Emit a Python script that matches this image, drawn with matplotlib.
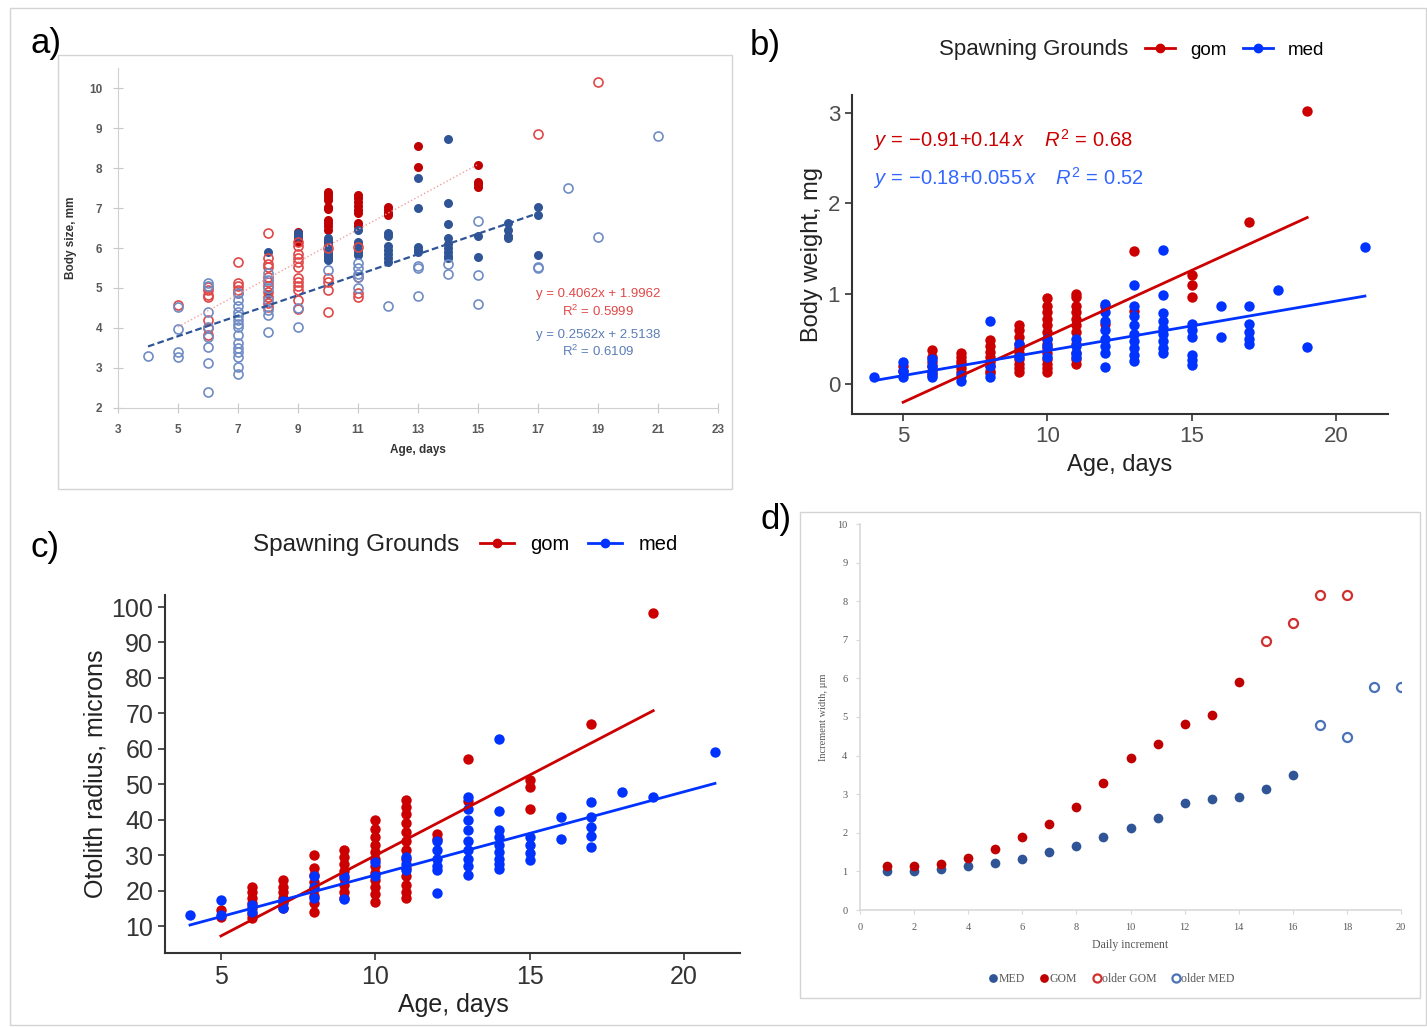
import matplotlib
matplotlib.use('Agg')
import matplotlib.pyplot as plt
from matplotlib.lines import Line2D
from matplotlib.patches import Rectangle

# ---------------- data ----------------
# panel a: body size (mm) by age, four point groups
a_red_fill = {9: [6.41, 6.33, 6.24, 6.16],
              10: [7.41, 7.35, 7.28, 7.2, 7.03, 6.98, 6.7, 6.62, 6.55, 6.45, 6.16, 6.1],
              11: [7.32, 7.25, 7.15, 7.05, 6.95, 6.87, 6.62, 6.55],
              12: [7.03, 6.95, 6.88, 6.83],
              13: [8.55, 8.03],
              15: [8.07, 7.66, 7.6, 7.53]}
a_red_open = {5: [4.58],
              6: [5.03, 4.95, 4.82, 4.78, 4.2, 3.99, 3.82],
              7: [5.66, 5.13, 5.05, 4.95, 4.87],
              8: [6.37, 5.74, 5.6, 5.53, 5.28, 5.15, 5.05, 4.9, 4.78, 4.62, 4.53],
              9: [6.16, 6.05, 5.85, 5.75, 5.65, 5.53, 5.25, 5.15, 5.05, 4.95, 4.7, 4.47],
              10: [6.0, 5.24, 5.15, 4.95, 4.41],
              11: [6.03, 5.28, 4.87, 4.78],
              17: [8.84],
              19: [10.14]}
a_blue_fill = {8: [5.91, 4.85],
               9: [6.37, 6.3],
               10: [6.25, 6.2, 6.1, 5.95, 5.9, 5.85, 5.8, 5.75, 5.7],
               11: [6.45, 6.16, 6.1, 5.95, 5.88, 5.82],
               12: [6.37, 6.3, 6.05, 5.95, 5.85, 5.75, 5.66],
               13: [7.74, 6.99, 6.03, 5.95, 5.91],
               14: [8.73, 7.12, 6.59, 6.24, 6.1, 6.0, 5.9, 5.8, 5.74],
               15: [6.3, 5.77],
               16: [6.62, 6.45, 6.3, 6.24],
               17: [7.02, 6.82, 5.83]}
a_blue_open = {4: [3.3],
               5: [4.53, 3.97, 3.41, 3.28],
               6: [5.13, 5.05, 4.41, 4.03, 3.78, 3.52, 3.12, 2.39],
               7: [4.87, 4.7, 4.55, 4.4, 4.3, 4.2, 4.1, 4.03, 3.82, 3.62, 3.5, 3.4, 3.28, 3.03, 2.85],
               8: [5.37, 5.2, 5.0, 4.7, 4.45, 4.32, 3.91],
               9: [4.49, 4.03],
               10: [5.45],
               11: [5.62, 5.5, 5.35, 5.28, 4.99],
               12: [4.56],
               13: [5.55, 5.5, 4.8],
               14: [5.6, 5.35],
               15: [6.67, 5.33, 4.59],
               17: [5.53, 5.5],
               18: [7.51],
               19: [6.28],
               21: [8.81]}
a_red_fit = (0.4062, 1.9962, 5, 15)
a_blue_fit = (0.2562, 2.5138, 4, 17)

# panel b: body weight (mg) by age
b_gom = {5: [0.2, 0.15],
         6: [0.38, 0.3, 0.25, 0.2, 0.15, 0.1],
         7: [0.34, 0.3, 0.26, 0.22, 0.18, 0.14],
         8: [0.49, 0.42, 0.36, 0.3, 0.25, 0.2, 0.15, 0.12],
         9: [0.65, 0.6, 0.52, 0.45, 0.4, 0.34, 0.28, 0.22, 0.18, 0.14],
         10: [0.95, 0.87, 0.8, 0.72, 0.65, 0.58, 0.5, 0.45, 0.4, 0.34, 0.28, 0.22, 0.18, 0.14],
         11: [1.0, 0.96, 0.87, 0.8, 0.72, 0.65, 0.58, 0.45, 0.35, 0.28, 0.22],
         12: [0.86, 0.67],
         13: [1.47, 0.81],
         15: [1.21, 1.1, 0.97],
         17: [1.79],
         19: [3.02]}
b_med = {4: [0.08],
         5: [0.25, 0.15, 0.08],
         6: [0.28, 0.2, 0.12, 0.08],
         7: [0.1, 0.04],
         8: [0.7, 0.2, 0.08],
         9: [0.45, 0.3],
         10: [0.5, 0.42, 0.3],
         11: [0.5, 0.42, 0.35, 0.3],
         12: [0.89, 0.8, 0.7, 0.6, 0.5, 0.42, 0.35, 0.19],
         13: [1.1, 0.87, 0.75, 0.65, 0.55, 0.48, 0.4, 0.32, 0.26],
         14: [1.49, 0.99, 0.79, 0.7, 0.62, 0.55, 0.48, 0.4, 0.34],
         15: [0.67, 0.6, 0.52, 0.32, 0.27, 0.21],
         16: [0.86, 0.52],
         17: [0.86, 0.67, 0.58, 0.5, 0.45],
         18: [1.04],
         19: [0.41],
         21: [1.52]}
b_gom_fit = (0.146, -0.93, 5, 19)
b_med_fit = (0.055, -0.18, 4, 21)

# panel c: otolith radius (microns) by age
c_gom = {5: [14.5, 12.5],
         6: [21.1, 19.5, 18, 16.5, 15, 13.5, 12.2],
         7: [23, 21, 19.5, 18, 16.5, 15],
         8: [30, 26.4, 24.5, 22.5, 20.5, 18.5, 16.5, 14],
         9: [31.4, 29.5, 27.5, 25.5, 23.5, 21.5, 19.7, 17.9],
         10: [40, 37.5, 35, 33, 31, 29, 27, 25, 23, 21, 19, 16.9],
         11: [45.5, 43.5, 41.5, 39, 36.5, 34, 31.5, 29, 26.5, 24, 21.5, 19.5, 17.9],
         12: [36, 34.5],
         13: [57.1, 45.4],
         15: [51.2, 49.3, 42.9],
         17: [66.9],
         19: [98.4]}
c_med = {4: [13.1],
         5: [17.3, 13.1],
         6: [16, 14],
         7: [17, 15],
         8: [24, 21, 18],
         9: [24, 17.5],
         10: [28, 24],
         11: [29.5, 27.5, 25.8],
         12: [34, 31.5, 29, 27, 25.8, 19.4],
         13: [46.5, 43, 40, 37, 34, 31.5, 29, 27, 24.4],
         14: [62.7, 42.5, 37, 35, 33, 31, 29, 27.5, 26],
         15: [35.2, 33, 30.5, 28.6],
         16: [40.8, 34.5],
         17: [45, 40.8, 38, 35.5, 32.4],
         18: [47.7],
         19: [46.3],
         21: [59.2]}
c_gom_fit = (4.54, -15.5, 5, 19)
c_med_fit = (2.35, 0.9, 4, 21)

# panel d: increment width by daily increment
d_med_x = list(range(1, 17))
d_med_y = [1.02, 1.02, 1.05, 1.13, 1.22, 1.32, 1.49, 1.67, 1.89, 2.12, 2.39, 2.76, 2.87, 2.94, 3.13, 3.5]
d_gom_x = list(range(1, 15))
d_gom_y = [1.13, 1.13, 1.2, 1.34, 1.59, 1.88, 2.23, 2.66, 3.3, 3.93, 4.31, 4.83, 5.05, 5.91]
d_old_gom_x = [15, 16, 17, 18]
d_old_gom_y = [6.98, 7.44, 8.17, 8.17]
d_old_med_x = [17, 18, 19, 20]
d_old_med_y = [4.8, 4.48, 5.78, 5.78]

# ---------------- layout helpers ----------------
plt.rcParams['font.family'] = ['Liberation Sans', 'DejaVu Sans']
plt.rcParams['mathtext.fontset'] = 'custom'
plt.rcParams['mathtext.rm'] = 'Liberation Sans'
plt.rcParams['mathtext.it'] = 'Liberation Sans:italic'

W, H = 1427, 1027
fig = plt.figure(figsize=(W / 100, H / 100), dpi=100)


def box(x0, y0, x1, y1):
    return [x0 / W, 1 - y1 / H, (x1 - x0) / W, (y1 - y0) / H]


def fx(px):
    return px / W


def fy(py):
    return 1 - py / H


def flat(d):
    xs, ys = [], []
    for k, v in d.items():
        xs += [k] * len(v)
        ys += v
    return xs, ys


def fitline(ax, fit, **kw):
    m, b, x0, x1 = fit
    ax.plot([x0, x1], [m * x0 + b, m * x1 + b], **kw)


# frames
fig.patches.append(Rectangle((fx(10), fy(1025)), fx(1416), 1017 / H, transform=fig.transFigure,
                             fill=False, ec='#d4d4d4', lw=1))
fig.patches.append(Rectangle((fx(58), fy(489)), fx(674), 434 / H, transform=fig.transFigure,
                             fill=False, ec='#d4d4d4', lw=1))
fig.patches.append(Rectangle((fx(800), fy(998)), fx(620), 486 / H, transform=fig.transFigure,
                             fill=False, ec='#d4d4d4', lw=1))

# ---------------- panel a ----------------
RED, BLUE = '#C00000', '#2F5597'
ax = fig.add_axes(box(118, 68, 718, 408))
x, y = flat(a_red_fill)
ax.plot(x, y, 'o', color=RED, ms=6.5, mew=0)
x, y = flat(a_blue_fill)
ax.plot(x, y, 'o', color=BLUE, ms=6.5, mew=0)
x, y = flat(a_red_open)
ax.plot(x, y, 'o', mfc='none', mec='#E04848', ms=6.5, mew=1.2)
x, y = flat(a_blue_open)
ax.plot(x, y, 'o', mfc='none', mec='#6F8CC4', ms=6.5, mew=1.2)
fitline(ax, a_red_fit, color='#F2A0A0', lw=1, ls=':')
fitline(ax, a_blue_fit, color=BLUE, lw=1.6, ls=(0, (3, 1.5)))
ax.set_xlim(3, 23)
ax.set_ylim(2, 10.5)
ax.set_xticks(range(3, 24, 2))
ax.set_yticks(range(2, 11))
for s in ['top', 'right']:
    ax.spines[s].set_visible(False)
for s in ['left', 'bottom']:
    ax.spines[s].set_color('#d0d0d0')
ax.tick_params(direction='inout', length=7, color='#c8c8c8', labelsize=8.5, labelcolor='#595959', pad=8)
for t in ax.get_xticklabels() + ax.get_yticklabels():
    t.set_fontweight('bold')
ax.text(0.80, 0.325, 'y = 0.4062x + 1.9962', transform=ax.transAxes, color='#E04848', fontsize=9.5, ha='center')
ax.text(0.80, 0.272, 'R$^2$ = 0.5999', transform=ax.transAxes, color='#E04848', fontsize=9.5, ha='center')
ax.text(0.80, 0.207, 'y = 0.2562x + 2.5138', transform=ax.transAxes, color='#5B7DB8', fontsize=9.5, ha='center')
ax.text(0.80, 0.154, 'R$^2$ = 0.6109', transform=ax.transAxes, color='#5B7DB8', fontsize=9.5, ha='center')
fig.text(fx(71), fy(238), 'Body size, mm', rotation=90, fontsize=8.5, fontweight='bold', color='#333333',
         ha='center', va='center')
fig.text(fx(418), fy(450), 'Age, days', fontsize=8.5, fontweight='bold', color='#333333', ha='center', va='center')
fig.text(fx(30), fy(44), 'a)', fontsize=25, va='center', ha='left')

# ---------------- panel b ----------------
GR, MB = '#CC0000', '#0033FF'
ax = fig.add_axes(box(852, 95, 1388, 414))
x, y = flat(b_gom)
ax.plot(x, y, 'o', color=GR, ms=7.5, mew=0)
x, y = flat(b_med)
ax.plot(x, y, 'o', color=MB, ms=7.5, mew=0)
fitline(ax, b_gom_fit, color=GR, lw=2)
fitline(ax, b_med_fit, color=MB, lw=2)
ax.set_xlim(3.23, 21.8)
ax.set_ylim(-0.33, 3.2)
ax.set_xticks([5, 10, 15, 20])
ax.set_yticks([0, 1, 2, 3])
for s in ['top', 'right']:
    ax.spines[s].set_visible(False)
for s in ['left', 'bottom']:
    ax.spines[s].set_color('#333333')
    ax.spines[s].set_linewidth(1.5)
ax.tick_params(length=5, width=1.2, color='#333333', labelsize=16, labelcolor='#4d4d4d')
ax.text(0.04, 0.86, r'$y\,=\,{-}0.91{+}0.14\,x\quad\;R^2\,=\,0.68$', transform=ax.transAxes, fontsize=14.5,
        color=GR, va='center')
ax.text(0.04, 0.74, r'$y\,=\,{-}0.18{+}0.055\,x\quad\;R^2\,=\,0.52$', transform=ax.transAxes, fontsize=14.5,
        color='#3366FF', va='center')
fig.text(fx(812), fy(255), 'Body weight, mg', rotation=90, fontsize=17, color='#222222', ha='center',
         va='center')
fig.text(fx(1120), fy(465), 'Age, days', fontsize=17, color='#222222', ha='center', va='center')
fig.text(fx(750), fy(46), 'b)', fontsize=25, va='center', ha='left')
fig.text(fx(1034), fy(50), 'Spawning Grounds', fontsize=16, color='#222222', ha='center', va='center')
hb = [Line2D([], [], color=GR, marker='o', ms=6, lw=2), Line2D([], [], color=MB, marker='o', ms=6, lw=2)]
fig.legend(hb, ['gom', 'med'], loc='center left', bbox_to_anchor=(fx(1128), fy(50)), ncol=2,
           frameon=False, fontsize=13.5, handlelength=1.6, columnspacing=0.9, handletextpad=0.8)

# ---------------- panel c ----------------
ax = fig.add_axes(box(165, 595, 740, 953))
x, y = flat(c_gom)
ax.plot(x, y, 'o', color=GR, ms=7.5, mew=0)
x, y = flat(c_med)
ax.plot(x, y, 'o', color=MB, ms=7.5, mew=0)
fitline(ax, c_gom_fit, color=GR, lw=2)
fitline(ax, c_med_fit, color=MB, lw=2)
ax.set_xlim(3.19, 21.81)
ax.set_ylim(2.4, 103.4)
ax.set_xticks([5, 10, 15, 20])
ax.set_yticks(range(10, 101, 10))
for s in ['top', 'right']:
    ax.spines[s].set_visible(False)
for s in ['left', 'bottom']:
    ax.spines[s].set_color('#333333')
    ax.spines[s].set_linewidth(1.5)
ax.tick_params(length=5, width=1.2, color='#333333', labelsize=18, labelcolor='#333333')
fig.text(fx(95), fy(774), 'Otolith radius, microns', rotation=90, fontsize=18, color='#222222',
         ha='center', va='center')
fig.text(fx(453), fy(1005), 'Age, days', fontsize=18, color='#222222', ha='center', va='center')
fig.text(fx(30), fy(548), 'c)', fontsize=25, va='center', ha='left')
fig.text(fx(356), fy(545), 'Spawning Grounds', fontsize=17.5, color='#222222', ha='center', va='center')
fig.legend(hb, ['gom', 'med'], loc='center left', bbox_to_anchor=(fx(462), fy(545)), ncol=2,
           frameon=False, fontsize=14.5, handlelength=1.7, columnspacing=0.9, handletextpad=0.8)

# ---------------- panel d ----------------
SERIF = 'Liberation Serif'
ax = fig.add_axes(box(860, 524, 1401, 910))
ax.plot(d_med_x, d_med_y, 'o', color=BLUE, ms=7, mew=0, label='MED')
ax.plot(d_gom_x, d_gom_y, 'o', color=RED, ms=7, mew=0, label='GOM')
ax.plot(d_old_gom_x, d_old_gom_y, 'o', mfc='white', mec='#D03030', ms=6.5, mew=1.6, label='older GOM')
ax.plot(d_old_med_x, d_old_med_y, 'o', mfc='white', mec='#4A72B8', ms=6.5, mew=1.6, label='older MED')
ax.set_xlim(0, 20)
ax.set_ylim(0, 10)
ax.set_xticks(range(0, 21, 2))
ax.set_yticks(range(0, 11))
for s in ['top', 'right']:
    ax.spines[s].set_visible(False)
for s in ['left', 'bottom']:
    ax.spines[s].set_color('#d9d9d9')
    ax.spines[s].set_linewidth(1.2)
ax.tick_params(length=3, color='#d9d9d9', labelsize=7.5, labelcolor='#595959', pad=6)
for t in ax.get_xticklabels() + ax.get_yticklabels():
    t.set_fontfamily(SERIF)
fig.text(fx(823), fy(717), 'Increment width, \u00b5m', rotation=90, fontsize=7.5, family=SERIF,
         color='#595959', ha='center', va='center')
fig.text(fx(1130), fy(945), 'Daily increment', fontsize=8.5, family=SERIF, color='#595959',
         ha='center', va='center')
ax.legend(loc='center', bbox_to_anchor=(fx(1112), fy(979)), bbox_transform=fig.transFigure, ncol=4,
          frameon=False, prop={'family': SERIF, 'size': 8.5}, handlelength=0.7, handletextpad=0.1,
          columnspacing=1.3, markerscale=0.9, labelcolor='#595959')
fig.text(fx(760), fy(520), 'd)', fontsize=25, va='center', ha='left')

plt.savefig('out.png', dpi=100)
